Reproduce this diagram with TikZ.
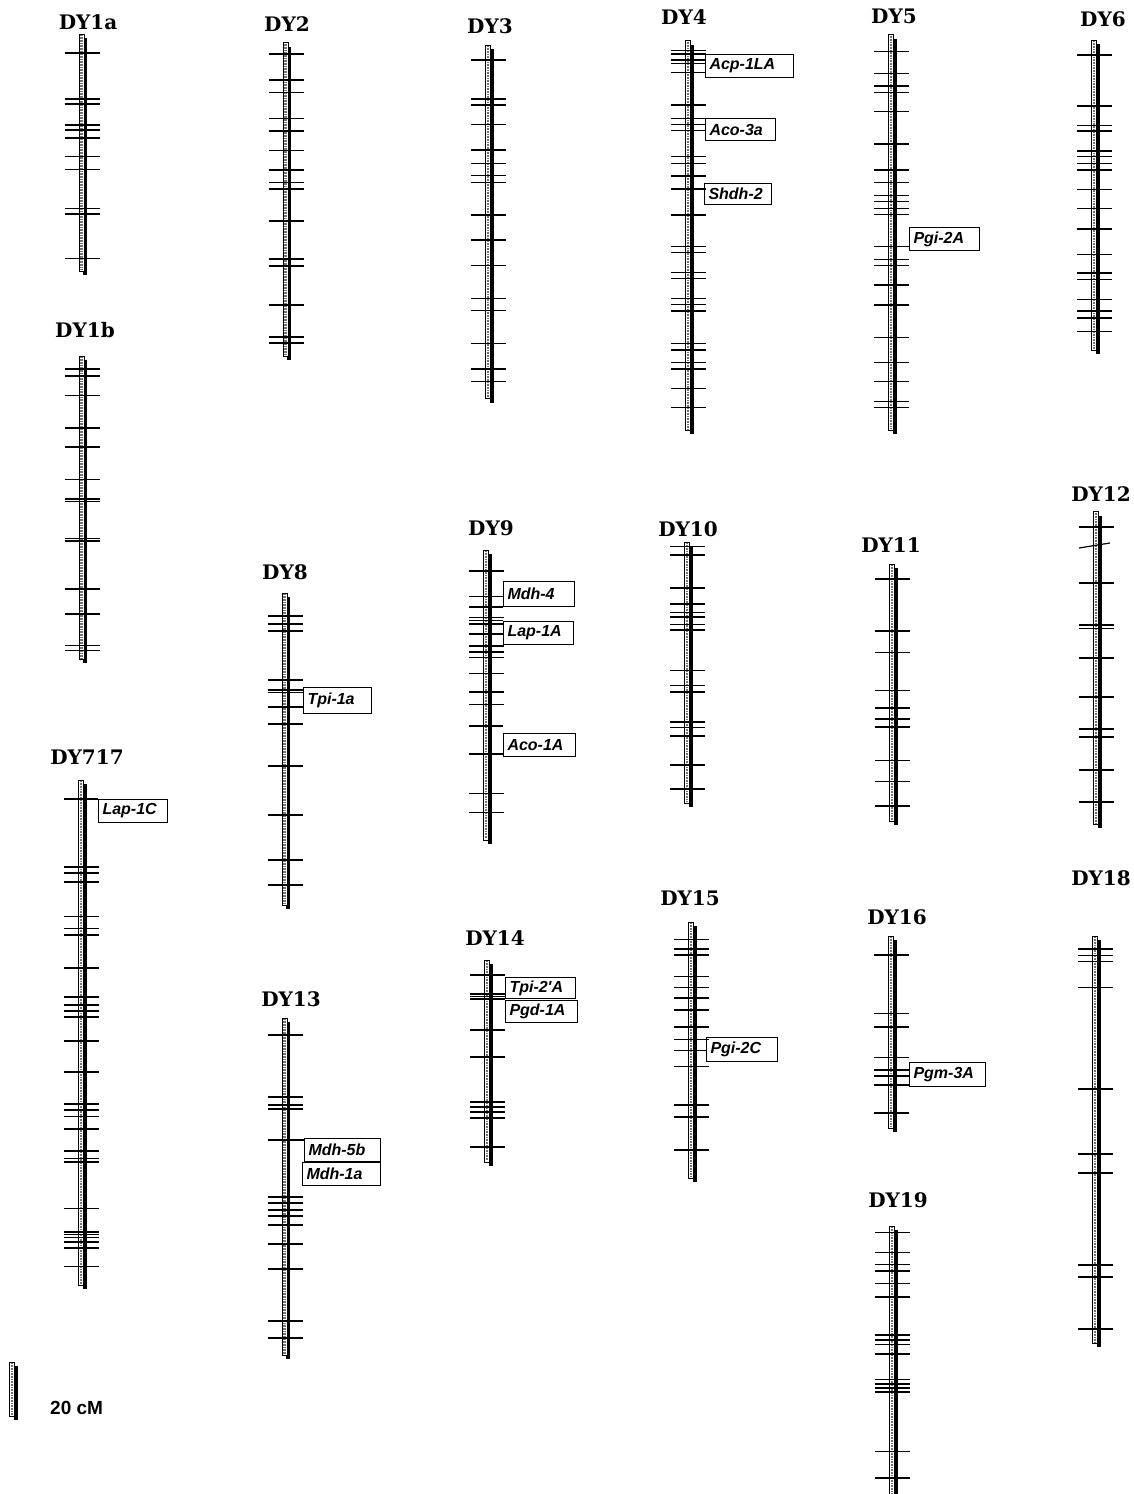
\documentclass[tikz,border=0pt]{standalone}
\usepackage{fontspec}
\newfontfamily\titlefont{DejaVu Serif}
\newfontfamily\labelfont{Liberation Sans}
\newcommand\chrbar[3]{%
  \fill[black] ({#1+1.5},{#2+4}) rectangle ({#1+5.5},{#3+4});
  \filldraw[fill=white, draw=black, line width=0.7pt] ({#1-2.5},#2) rectangle ({#1+2.5},#3);
  \draw[black!55, line width=2.4pt, dash pattern=on 0.8pt off 0.8pt] (#1,{#2+1}) -- (#1,{#3-1});
}
\newcommand\chrticks[2]{%
  \foreach \yy in {#2} {\draw[tick] ({#1-17},\yy) -- ({#1+18},\yy);}
}
\begin{document}
\begin{tikzpicture}[x=1pt,y=-1pt,
  tick/.style={line width=1.2pt},
  ttl/.style={font=\titlefont\bfseries\fontsize{20}{22}\selectfont, inner sep=0pt},
  lbl/.style={draw, line width=1pt, anchor=north west, inner xsep=4pt, inner ysep=0pt, align=left,
    font=\labelfont\bfseries\itshape\fontsize{16}{18}\selectfont}]
\useasboundingbox (0,0) rectangle (1133,1494);
\fill[white] (0,0) rectangle (1133,1494);

% ---------- column 1 ----------
\node[ttl] (t1a) at (88,22) {DY1a};
\chrbar{81.5}{34}{271}
\chrticks{81.5}{53,99,104,125,130,138,156.5,169.5,208.5,214,258.5}

\node[ttl] (t1b) at (85,330) {DY1b};
\chrbar{81.5}{356}{659}
\chrticks{81.5}{369,376,395.5,428,447,479.5,499,501.5,538.5,541,589,614,645.5,650.5}

\node[ttl] (t717) at (87,757) {DY717};
\chrbar{81}{780}{1285}
\chrticks{81}{867,873,882,916.5,928.5,935,968,997,1005,1011,1017,1041,1072,1104,1110,1116.5,1129,1151,1158.5,1162,1208.5,1232,1234.5,1237.5,1242,1248,1266.5}
\node[lbl, text width=61pt, minimum height=23pt] (lap1c) at (98,799) {Lap-1C};
\draw[tick] (64,799) -- (lap1c.north west);

% ---------- column 2 ----------
\node[ttl] (t2) at (287,24) {DY2};
\chrbar{285.5}{42.5}{356}
\chrticks{285.5}{54,80,92.5,118.5,131,150.5,170,182.5,189,221,259,266,305,337,343}

\node[ttl] (t8) at (285,572) {DY8};
\chrbar{284.5}{593}{905}
\chrticks{284.5}{616,624,631,680,724,766,815,860,885}
\node[lbl, text width=60pt, minimum height=26pt] (tpi1a) at (303,687) {Tpi-1a};
\foreach \yy in {690,692.5,707} {\draw[tick] (267.5,\yy) -- (tpi1a.west |- 0,\yy);}

\node[ttl] (t13) at (291,999) {DY13};
\chrbar{284.5}{1018}{1355}
\chrticks{284.5}{1035,1097,1105,1109,1197,1203,1210,1216,1225,1244,1269,1321,1338}
\node[lbl, text width=68pt, minimum height=23pt] (mdh5b) at (304,1138) {Mdh-5b};
\node[lbl, text width=70pt, minimum height=23pt] (mdh1a) at (302,1162) {Mdh-1a};
\draw[tick] (267.5,1140) -- (mdh5b.north west |- 0,1140);

% ---------- column 3 ----------
\node[ttl] (t3) at (490,26) {DY3};
\chrbar{488}{45}{398.5}
\chrticks{488}{60,99,105,124.5,150,163.5,175.5,182.5,215,240,265.5,298.5,310.5,343.5,369,381.5}

\node[ttl] (t9) at (491,528) {DY9};
\chrbar{486}{550}{840}
\chrticks{486}{571,617.5,646,652,657.5,673.5,692,704.5,793.5,812.5}
\node[lbl, text width=63pt, minimum height=25pt] (mdh4) at (503,581) {Mdh-4};
\node[lbl, text width=62pt, minimum height=23pt] (lap1a) at (503,621) {Lap-1A};
\node[lbl, text width=64pt, minimum height=23pt] (aco1a) at (503,733) {Aco-1A};
\foreach \yy in {596.5,607} {\draw[tick] (469,\yy) -- (mdh4.west |- 0,\yy);}
\foreach \yy in {620.5,624,634} {\draw[tick] (469,\yy) -- (lap1a.west |- 0,\yy);}
\foreach \yy in {726,754} {\draw[tick] (469,\yy) -- (aco1a.west |- 0,\yy);}

\node[ttl] (t14) at (495,938) {DY14};
\chrbar{487}{960}{1162}
\chrticks{487}{975,994,996.5,999,1030,1057,1102,1107,1112,1118,1147}
\node[lbl, text width=62pt, minimum height=21pt] (tpi2a) at (505,977) {Tpi-2'A};
\node[lbl, text width=64pt, minimum height=22pt] (pgd1a) at (505,1000) {Pgd-1A};

% ---------- column 4 ----------
\node[ttl] (t4) at (684,17) {DY4};
\chrbar{688}{40.5}{430}
\chrticks{688}{50.5,54,60,63.5,72.5,105,118.5,124.5,130.5,156.5,163.5,176,189,215,246.5,252.5,272.5,278.5,298.5,304.5,311,343.5,350,362.5,369,388.5,407.5}
\node[lbl, text width=80pt, minimum height=23pt] (acp1la) at (705,54) {Acp-1LA};
\node[lbl, text width=62pt, minimum height=22pt] (aco3a) at (705,118) {Aco-3a};
\node[lbl, text width=59pt, minimum height=21pt] (shdh2) at (704,183) {Shdh-2};

\node[ttl] (t10) at (688,529) {DY10};
\chrbar{687}{542}{803}
\chrticks{687}{546.5,555,588,604,612.5,617,624.5,630,670.5,685.5,692,722,727.5,736,765,789}

\node[ttl] (t15) at (690,898) {DY15};
\chrbar{691}{922}{1178}
\chrticks{691}{939.5,949,955,976.5,987.5,998,1010,1027,1039.5,1066.5,1105,1117,1150}
\node[lbl, text width=63pt, minimum height=24pt] (pgi2c) at (706,1037) {Pgi-2C};
\draw[tick] (674,1050.5) -- (pgi2c.west |- 0,1050.5);

% ---------- column 5 ----------
\node[ttl] (t5) at (894,16) {DY5};
\chrbar{891}{34.5}{430}
\chrticks{891}{51.5,73.5,86,92.5,111.5,144,170,182.5,195.5,201.5,208.5,214.5,259.5,265.5,285,305,337.5,362.5,381.5,401.5,407.5}
\node[lbl, text width=62pt, minimum height=23pt] (pgi2a) at (909,227) {Pgi-2A};
\draw[tick] (874,246.5) -- (pgi2a.west |- 0,246.5);

\node[ttl] (t11) at (891,545) {DY11};
\chrbar{892}{564}{821}
\chrticks{892}{579,631,652.5,690.5,708,719,727,760.5,781.5,806}

\node[ttl] (t16) at (897,917) {DY16};
\chrbar{891}{936}{1128}
\chrticks{891}{955,1013.5,1027,1057.5,1085,1113}
\node[lbl, text width=68pt, minimum height=24pt] (pgm3a) at (909,1062) {Pgm-3A};
\foreach \yy in {1070,1076} {\draw[tick] (874,\yy) -- (pgm3a.west |- 0,\yy);}

\node[ttl] (t19) at (898,1200) {DY19};
\chrbar{892}{1226}{1494}
\chrticks{892}{1232.5,1252.5,1264.5,1271,1283.5,1297,1335,1340,1344.5,1354,1379.5,1384,1388,1392,1451.5,1478}

% ---------- column 6 ----------
\node[ttl] (t6) at (1103,19) {DY6};
\chrbar{1094}{40}{350}
\chrticks{1094}{55,106,125.5,131,151,156.5,163.5,170,189.5,208.5,229,254.5,273,279.5,299.5,311,318,331.5}

\node[ttl] (t12) at (1101,494) {DY12};
\chrbar{1096}{511.5}{824}
\chrticks{1096}{527,583,625,628.5,658,697,729,737,770,802}
\draw[tick] (1079,548) -- (1110,543);

\node[ttl] (t18) at (1101,878) {DY18};
\chrbar{1095}{936}{1343}
\chrticks{1095}{949,955.5,961.5,987.5,1089,1154,1173,1265,1277,1329}

% ---------- scale ----------
\chrbar{12}{1362}{1416}
\node[font=\labelfont\bfseries\fontsize{19}{21}\selectfont, anchor=west, inner sep=0pt] (scale) at (50,1408) {20 cM};
\end{tikzpicture}
\end{document}
